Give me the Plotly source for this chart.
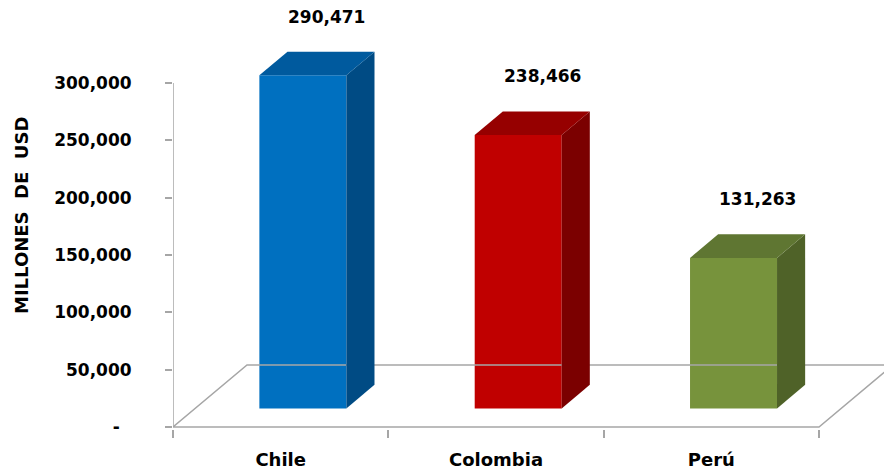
import plotly.graph_objects as go

# ---------------- data ----------------
categories = ["Chile", "Colombia", "Perú"]
values = [290471, 238466, 131263]
y_tick_values = [0, 50000, 100000, 150000, 200000, 250000, 300000]
y_tick_labels = ["-\u00a0\u00a0", "50,000", "100,000", "150,000", "200,000", "250,000", "300,000"]
axis_title = "MILLONES\u00a0 DE\u00a0 USD"

front_colors = ["#0070C0", "#C00000", "#77933C"]
top_colors = ["#005A9E", "#960000", "#5F7632"]
side_colors = ["#004B84", "#7B0000", "#4F6228"]

# ---------------- geometry (pixels -> data units) ----------------
W, H = 884, 474
M_L, M_B, M_T, M_R = 173, 45, 0, 0
plot_w = W - M_L - M_R
plot_h = H - M_T - M_B
PX_CAT = 215.33                 # pixels per category
PX_VAL = 344 / 300000           # pixels per value unit
x_min = -0.5
x_max = x_min + plot_w / PX_CAT
y_min = -(plot_h - 427) / PX_VAL
y_max = y_min + plot_h / PX_VAL

FLOOR_DX = 74 / PX_CAT          # depth offset of floor in x units
FLOOR_DY = 62 / PX_VAL          # depth offset of floor in y units
BAR_F = 0.30                    # front position of bars within depth
BAR_D = 0.38                    # bar depth fraction
BAR_W = 87 / PX_CAT             # bar front width

GRAY = "#A6A6A6"
FONT = dict(family="DejaVu Sans", color="black", weight="bold")

fig = go.Figure()

# floor
n = len(categories)
fx = [x_min, x_min + FLOOR_DX, x_min + n + FLOOR_DX, x_min + n, x_min]
fy = [0, FLOOR_DY, FLOOR_DY, 0, 0]
fig.add_trace(go.Scatter(x=fx, y=fy, mode="lines", line=dict(color=GRAY, width=1.5),
                         hoverinfo="skip", showlegend=False))

base = BAR_F * FLOOR_DY
xc = [i + BAR_F * FLOOR_DX for i in range(n)]
ddx = BAR_D * FLOOR_DX
ddy = BAR_D * FLOOR_DY

# front faces
fig.add_trace(go.Bar(x=xc, y=values, base=base, width=BAR_W,
                     marker=dict(color=front_colors, line=dict(width=0)),
                     showlegend=False, hoverinfo="skip"))

# side and top faces
for i, v in enumerate(values):
    xl = xc[i] - BAR_W / 2
    xr = xc[i] + BAR_W / 2
    top = base + v
    fig.add_trace(go.Scatter(
        x=[xr, xr + ddx, xr + ddx, xr, xr],
        y=[base, base + ddy, top + ddy, top, base],
        mode="lines", fill="toself", fillcolor=side_colors[i],
        line=dict(width=0, color=side_colors[i]), hoverinfo="skip", showlegend=False))
    fig.add_trace(go.Scatter(
        x=[xl, xr, xr + ddx, xl + ddx, xl],
        y=[top, top, top + ddy, top + ddy, top],
        mode="lines", fill="toself", fillcolor=top_colors[i],
        line=dict(width=0, color=top_colors[i]), hoverinfo="skip", showlegend=False))
    fig.add_annotation(x=xc[i] + 0.85 * ddx, y=top + ddy, text=f"{v:,}",
                       showarrow=False, yshift=35, yanchor="middle",
                       font=dict(size=17, **FONT))

# vertical axis line
fig.add_shape(type="line", x0=x_min, x1=x_min, y0=0, y1=y_tick_values[-1],
              xref="x", yref="y", line=dict(color=GRAY, width=1.5))

# axis title
fig.add_annotation(text=axis_title, textangle=-90, xref="paper", yref="paper",
                   x=(21 - M_L) / plot_w, y=(plot_h - 216) / plot_h,
                   xanchor="center", yanchor="middle", showarrow=False,
                   font=dict(size=18, **FONT))

fig.update_layout(
    width=W, height=H,
    margin=dict(l=M_L, r=M_R, t=M_T, b=M_B, pad=0),
    plot_bgcolor="white", paper_bgcolor="white",
    showlegend=False,
    xaxis=dict(range=[x_min, x_max], tickmode="array", tickvals=list(range(n)),
               ticktext=categories, ticks="", showgrid=False, zeroline=False,
               showline=False, tickfont=dict(size=18, **FONT), ticklabelstandoff=18,
               minor=dict(tickmode="array", tickvals=[x_min + k for k in range(n + 1)],
                          ticks="outside", ticklen=8, tickwidth=1.5, tickcolor=GRAY,
                          showgrid=False)),
    yaxis=dict(range=[y_min, y_max], tickmode="array", tickvals=y_tick_values,
               ticktext=y_tick_labels, ticks="outside", ticklen=7, tickwidth=1.5,
               tickcolor=GRAY, showgrid=False, zeroline=False, showline=False,
               tickfont=dict(size=17, **FONT), ticklabelstandoff=30),
)

fig.write_html("out.html", config={"displayModeBar": False},
               post_script="document.body.style.margin='0px';document.body.style.overflow='hidden';")
